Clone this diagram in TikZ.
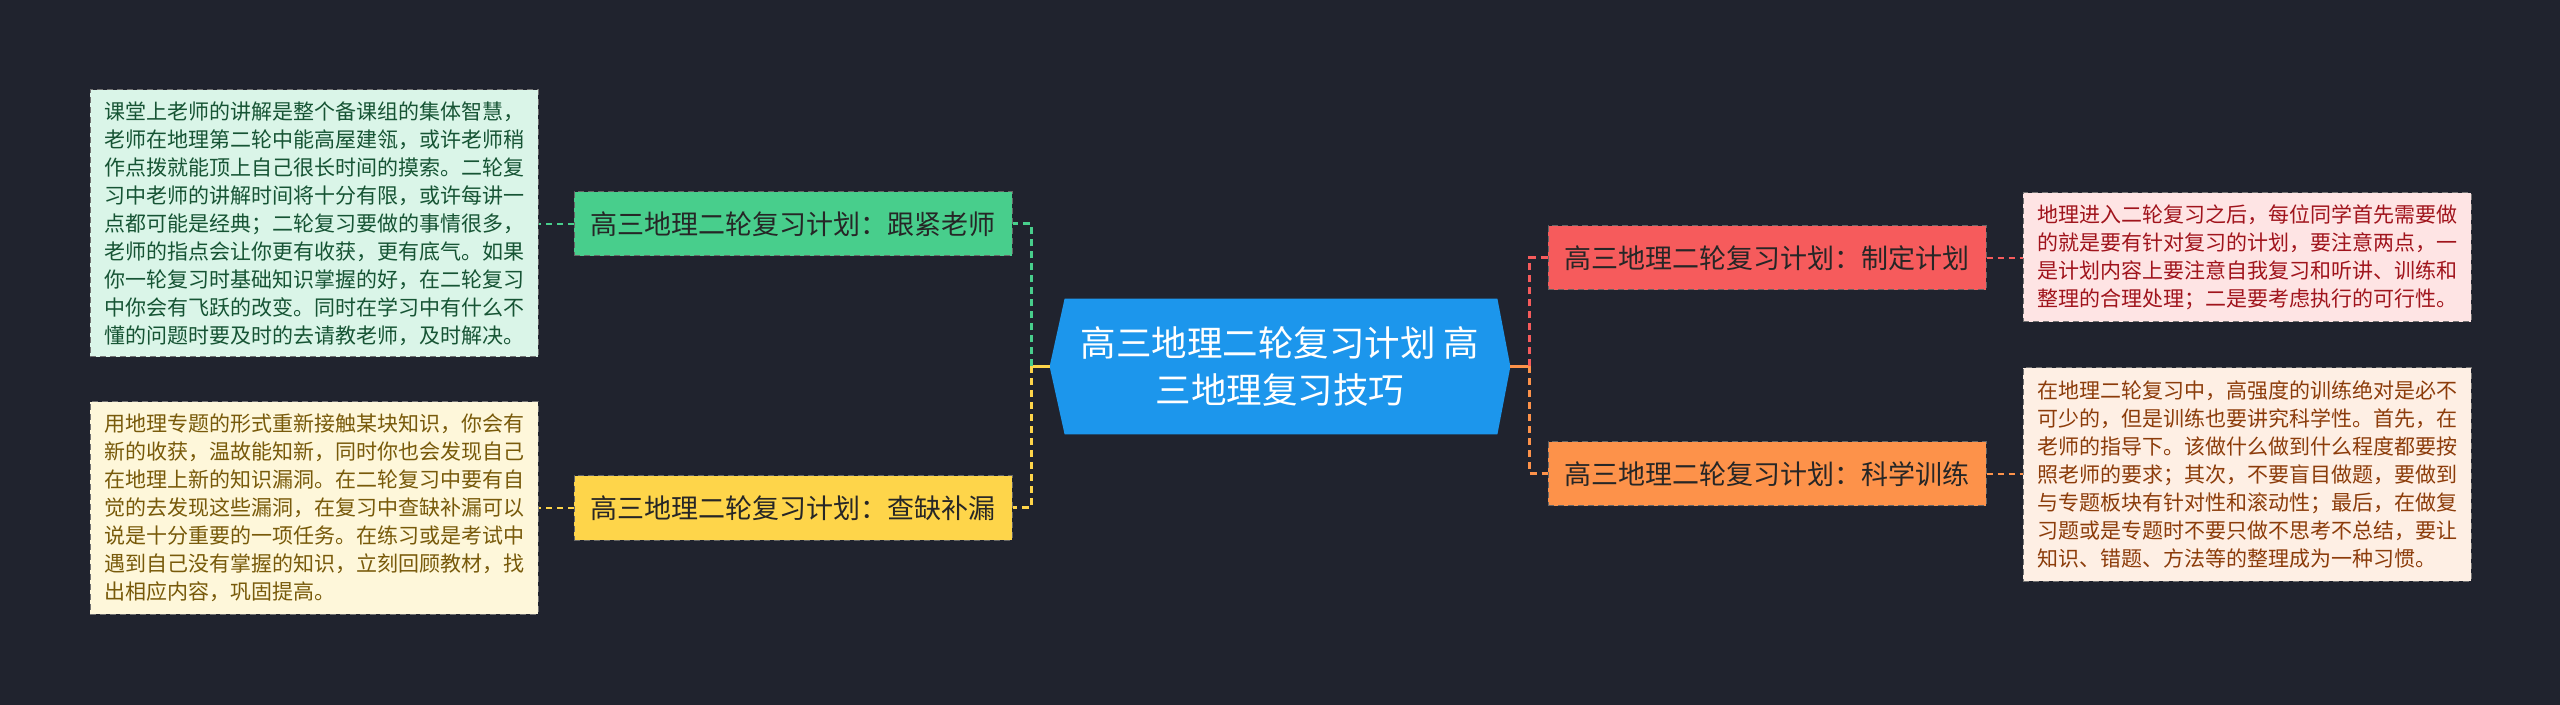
\documentclass[tikz,border=0pt]{standalone}
\usepackage{fontspec}
\newfontfamily\cjk{Noto Sans CJK SC}
\definecolor{bgc}{RGB}{32,35,46}
\definecolor{cblue}{RGB}{28,150,236}
\definecolor{cgreen}{RGB}{72,206,140}
\definecolor{cyellow}{RGB}{254,213,74}
\definecolor{cred}{RGB}{246,91,92}
\definecolor{corange}{RGB}{253,146,74}
\definecolor{dgreen}{RGB}{218,245,232}
\definecolor{dyellow}{RGB}{254,247,218}
\definecolor{dred}{RGB}{254,228,228}
\definecolor{dorange}{RGB}{254,239,228}
\definecolor{tgreen}{RGB}{22,84,52}
\definecolor{tyellow}{RGB}{120,90,10}
\definecolor{tred}{RGB}{160,20,28}
\definecolor{torange}{RGB}{140,60,10}
\tikzset{
  topic/.style={draw=black!60, densely dashed, line width=0.5pt, inner sep=0pt,
    minimum width=219pt, minimum height=32pt, text=black!85,
    font=\cjk\fontsize{13.5}{16}\selectfont},
  detail/.style={draw=black!55, densely dashed, line width=0.5pt, inner sep=0pt,
    minimum width=224pt, align=left,
    font=\cjk\fontsize{10.5}{14}\selectfont},
  trunk/.style={line width=1.5pt, dash pattern=on 3.5pt off 2.5pt},
  branch/.style={line width=1pt, dash pattern=on 3pt off 2.5pt},
}
\begin{document}
\begin{tikzpicture}[x=0.5pt,y=-0.5pt]
\fill[bgc] (0,0) rectangle (2560,705);
\useasboundingbox (0,0) rectangle (2560,705);
% center
\node[inner sep=0pt, minimum width=230pt, minimum height=67.5pt] (center) at (1280,366.5) {};
\fill[cblue] (center.west) -- ([xshift=7.5pt]center.north west) -- ([xshift=-6.5pt]center.north east)
  -- (center.east) -- ([xshift=-6.5pt]center.south east) -- ([xshift=7.5pt]center.south west) -- cycle;
\node[text=white, align=center, font=\cjk\fontsize{17.75}{23.5}\selectfont] (ctext) at (center) {高三地理二轮复习计划 高\\三地理复习技巧};
% topics
\node[topic, fill=cgreen] (green) at (793,224) {高三地理二轮复习计划：跟紧老师};
\node[topic, fill=cyellow] (yellow) at (793,508) {高三地理二轮复习计划：查缺补漏};
\node[topic, fill=cred] (red) at (1767,258) {高三地理二轮复习计划：制定计划};
\node[topic, fill=corange] (orange) at (1767,474) {高三地理二轮复习计划：科学训练};
% details
\node[detail, fill=dgreen, text=tgreen, minimum height=133.5pt] (gd) at (314,223.5) {课堂上老师的讲解是整个备课组的集体智慧，\\老师在地理第二轮中能高屋建瓴，或许老师稍\\作点拨就能顶上自己很长时间的摸索。二轮复\\习中老师的讲解时间将十分有限，或许每讲一\\点都可能是经典；二轮复习要做的事情很多，\\老师的指点会让你更有收获，更有底气。如果\\你一轮复习时基础知识掌握的好，在二轮复习\\中你会有飞跃的改变。同时在学习中有什么不\\懂的问题时要及时的去请教老师，及时解决。};
\node[detail, fill=dyellow, text=tyellow, minimum height=106pt] (yd) at (314,508) {用地理专题的形式重新接触某块知识，你会有\\新的收获，温故能知新，同时你也会发现自己\\在地理上新的知识漏洞。在二轮复习中要有自\\觉的去发现这些漏洞，在复习中查缺补漏可以\\说是十分重要的一项任务。在练习或是考试中\\遇到自己没有掌握的知识，立刻回顾教材，找\\出相应内容，巩固提高。};
\node[detail, fill=dred, text=tred, minimum height=64.5pt] (rd) at (2247,257.5) {地理进入二轮复习之后，每位同学首先需要做\\的就是要有针对复习的计划，要注意两点，一\\是计划内容上要注意自我复习和听讲、训练和\\整理的合理处理；二是要考虑执行的可行性。};
\node[detail, fill=dorange, text=torange, minimum height=106.5pt] (od) at (2247,474.5) {在地理二轮复习中，高强度的训练绝对是必不\\可少的，但是训练也要讲究科学性。首先，在\\老师的指导下。该做什么做到什么程度都要按\\照老师的要求；其次，不要盲目做题，要做到\\与专题板块有针对性和滚动性；最后，在做复\\习题或是专题时不要只做不思考不总结，要让\\知识、错题、方法等的整理成为一种习惯。};
% junctions
\coordinate (lj) at (1031,366.5);
\coordinate (rj) at (1529,366.5);
% connectors
\draw[cyellow, line width=1.5pt] (center.west) -- (lj);
\draw[corange, line width=1.5pt] (center.east) -- (rj);
\draw[trunk, cgreen] (lj) |- (green.east);
\draw[trunk, cyellow] (lj) |- (yellow.east);
\draw[trunk, cred] (rj) |- (red.west);
\draw[trunk, corange] (rj) |- (orange.west);
\draw[branch, cgreen] (green.west) -- (gd.east |- green.west);
\draw[branch, cyellow] (yellow.west) -- (yd.east |- yellow.west);
\draw[branch, cred] (red.east) -- (rd.west |- red.east);
\draw[branch, corange] (orange.east) -- (od.west |- orange.east);
\end{tikzpicture}
\end{document}
